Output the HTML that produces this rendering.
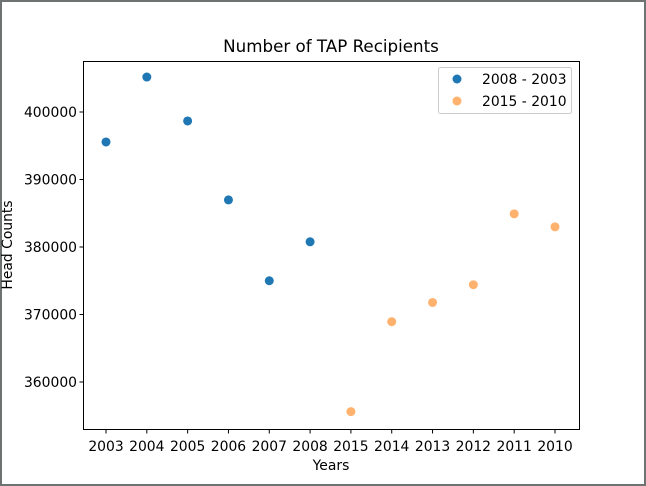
<!DOCTYPE html>
<html><head><meta charset="utf-8"><style>
html,body{margin:0;padding:0;background:#fff;}
svg{display:block;font-family:"DejaVu Sans","Liberation Sans",sans-serif;}
</style></head><body>
<svg id="chart" width="646" height="486" viewBox="0 0 646 486">
<rect x="1" y="1" width="644" height="484" fill="#fff" stroke="#6e7272" stroke-width="2"/>
<text x="331" y="52" font-size="16.7" text-anchor="middle">Number of TAP Recipients</text>
<g id="plot"></g>
<rect x="83.5" y="61.5" width="496" height="368" fill="none" stroke="#000" stroke-width="1"/>
<text x="331" y="470" font-size="13.9" text-anchor="middle">Years</text>
<text x="12" y="245" font-size="13.9" text-anchor="middle" transform="rotate(-90 12 245)">Head Counts</text>
<g>
<rect x="438.5" y="67.5" width="133" height="46" rx="2" fill="#fff" stroke="#ccc"/>
<circle cx="457" cy="79" r="4.5" fill="#1f77b4"/>
<text x="482" y="84" font-size="13.9">2008 - 2003</text>
<circle cx="457" cy="101" r="4.5" fill="#ff7f0e" fill-opacity="0.6"/>
<text x="482" y="106" font-size="13.9">2015 - 2010</text>
</g>
</svg>
<script>
const categories = ["2003","2004","2005","2006","2007","2008","2015","2014","2013","2012","2011","2010"];
const series1Years = ["2003","2004","2005","2006","2007","2008"];
const series1Values = [395560,405180,398670,386980,375000,380770];
const series2Years = ["2015","2014","2013","2012","2011","2010"];
const series2Values = [355620,368940,371780,374410,384910,382990];
const yTicks = [360000,370000,380000,390000,400000];

const svgNS="http://www.w3.org/2000/svg";
const g=document.getElementById('plot');
function xScale(cat){const i=categories.indexOf(cat);return 106+i*(555-106)/(categories.length-1);}
function yScale(v){return 112+(400000-v)*(382-112)/40000;}
function mk(tag,attrs){const e=document.createElementNS(svgNS,tag);for(const k in attrs)e.setAttribute(k,attrs[k]);g.appendChild(e);return e;}
yTicks.forEach(v=>{
  const y=yScale(v);
  const t=mk('line',{x1:79.5,x2:83.5,y1:y,y2:y,stroke:'#000'});
  
  
  const l=mk('text',{x:77,y:y+5,'font-size':13.9,'text-anchor':'end'});
  l.textContent=v;
  
  
});
categories.forEach(c=>{
  const x=xScale(c);
  const t=mk('line',{x1:x,x2:x,y1:429.5,y2:433.5,stroke:'#000'});
  
  
  const l=mk('text',{x:x,y:451,'font-size':13.9,'text-anchor':'middle'});
  l.textContent=c;
  
  
});
series1Years.forEach((c,i)=>{
  const p=mk('circle',{cx:xScale(c),cy:yScale(series1Values[i]),r:4.5,fill:'#1f77b4'});
  
  
});
series2Years.forEach((c,i)=>{
  const p=mk('circle',{cx:xScale(c),cy:yScale(series2Values[i]),r:4.5,fill:'#ff7f0e','fill-opacity':0.6});
  
  
});
</script>
</body></html>
